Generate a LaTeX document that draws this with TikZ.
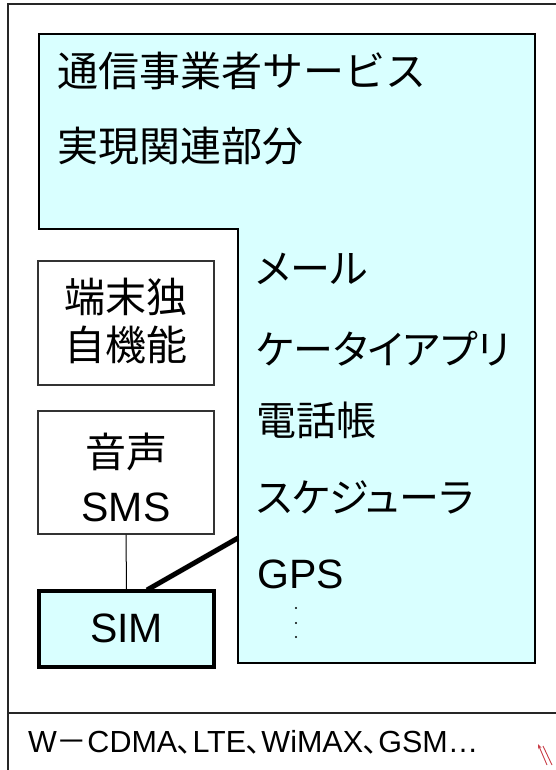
\documentclass[tikz,border=0pt]{standalone}
\usepackage{fontspec}
\setmainfont{Liberation Sans}
\newfontfamily\jp{Noto Sans CJK JP}
\newfontfamily\jpp{Noto Sans CJK JP}[RawFeature=+palt]
\usetikzlibrary{arrows.meta,calc}
\definecolor{lcyan}{RGB}{217,255,255}
\definecolor{markred}{RGB}{200,60,70}
\begin{document}
\begin{tikzpicture}[x=1pt,y=-1pt,
  frameline/.style={line width=2pt,draw=black!85},
  lshape/.style={fill=lcyan,draw=black,line width=2pt},
  plainbox/.style={draw=black!80,line width=1.3pt,fill=white,rectangle,inner sep=0pt,minimum width=176pt},
  simbox/.style={draw=black,line width=4pt,fill=lcyan,rectangle,inner sep=0pt,minimum width=175pt,minimum height=76pt},
  bigtxt/.style={inner sep=0pt,font=\fontsize{41}{41}\selectfont},
  itemtxt/.style={inner sep=0pt,anchor=base west,font=\fontsize{40}{40}\selectfont},
  latintxt/.style={inner sep=0pt,font=\fontsize{41}{41}\selectfont},
  btmtxt/.style={inner sep=0pt,anchor=base west,font=\fontsize{30.5}{30.5}\selectfont},
  thin/.style={line width=1pt,draw=black},
  thick5/.style={line width=5pt,draw=black},
  dotdot/.style={fill=black,circle,inner sep=0pt,minimum size=2.4pt}
]
\useasboundingbox (0,0) rectangle (556,770);
% outer frame
\coordinate (fbl) at (8,775);
\coordinate (ftl) at (8,4);
\coordinate (ftr) at (560,4);
\coordinate (hl) at (8,713);
\coordinate (hr) at (560,713);
\draw[frameline] (fbl) -- (ftl) -- (ftr);
\draw[frameline] (hl) -- (hr);
% L-shaped cyan region
\draw[lshape] (39,34) -- (535,34) -- (535,663) -- (238,663) -- (238,229) -- (39,229) -- cycle;
\node[bigtxt,anchor=base west] (t1) at (57,87) {\jp 通信事業者サービス};
\node[bigtxt,anchor=base west] (t2) at (57,162) {\jp 実現関連部分};
% items
\node[itemtxt] (i1) at (256,283) {\jpp メール};
\node[itemtxt] (i2) at (256,364) {\jpp ケータイアプリ};
\node[itemtxt] (i3) at (256,435) {\jpp 電話帳};
\node[itemtxt] (i4) at (256,512) {\jpp スケジューラ};
\node[latintxt,anchor=base west] (i5) at (257,588) {GPS};
\node[dotdot] (d1) at (296,608) {};
\node[dotdot] (d2) at (296,623) {};
\node[dotdot] (d3) at (296,637) {};
% left boxes
\node[plainbox,minimum height=124pt] (b1) at (126,323) {};
\node[bigtxt,anchor=base] (b1a) at (126,312) {\jp 端末独};
\node[bigtxt,anchor=base] (b1b) at (126,360) {\jp 自機能};
\node[plainbox,minimum height=123pt] (b2) at (126,472.5) {};
\node[bigtxt,anchor=base] (b2a) at (126,467) {\jp 音声};
\node[latintxt,anchor=base] (b2b) at (126,521) {SMS};
\node[simbox] (sim) at (126.5,629) {};
\node[latintxt,anchor=base] (simt) at (126.5,642) {SIM};
% connectors
\draw[thin] (b2.south) -- (sim.north);
\coordinate (simtap) at (147,590);
\coordinate (lcon) at (238,538);
\draw[thick5] (simtap) -- (lcon);
% bottom text
\node[btmtxt] (bt) at (28,752) {W{\jp －}CDMA{\jp ､}LTE{\jp ､}WiMAX{\jp ､}GSM…};
% red mark
\coordinate (r1a) at (547,765);
\coordinate (r1b) at (538,744);
\coordinate (r2a) at (552,765);
\coordinate (r2b) at (543,746);
\draw[markred,line width=0.9pt,-{Stealth[length=5pt,width=3.5pt]}] (r1a) -- (r1b);
\draw[markred,line width=0.9pt] (r2a) -- (r2b);
\end{tikzpicture}
\end{document}
